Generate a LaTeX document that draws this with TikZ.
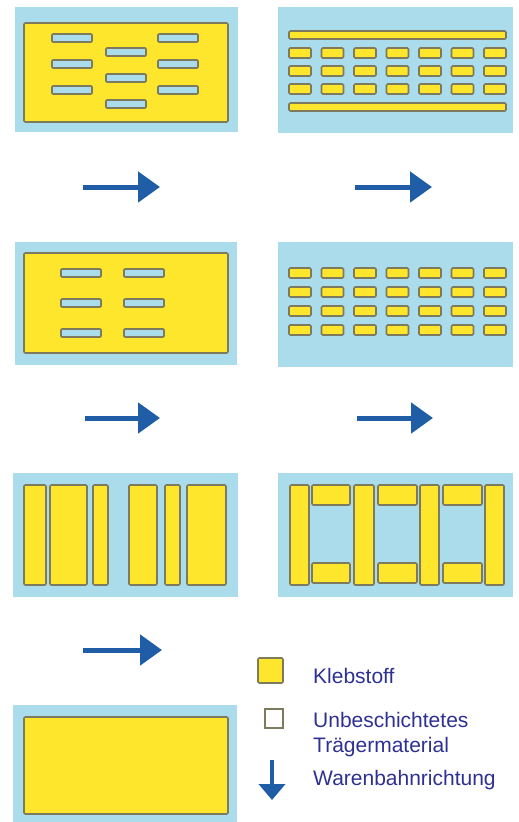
\documentclass[tikz,border=0pt]{standalone}
\usepackage{fontspec}
\setmainfont{Liberation Sans}
\usetikzlibrary{arrows.meta}
\definecolor{traeger}{HTML}{AADCEB}
\definecolor{kleber}{HTML}{FDE62C}
\definecolor{kante}{HTML}{7D7A5E}
\definecolor{pfeilblau}{HTML}{1F5EA6}
\definecolor{schrift}{HTML}{2E3192}
\tikzset{
  bg/.style={fill=traeger},
  glue/.style={fill=kleber, draw=kante, line width=1.6pt, rounded corners=1.2pt},
  gap/.style={fill=traeger, draw=kante, line width=1.6pt, rounded corners=1pt},
  pfeil/.style={draw=pfeilblau, line width=5pt, -{Triangle[length=22pt,width=30pt]}},
  legtext/.style={text=schrift, font=\fontsize{21}{23}\selectfont, anchor=base west, inner sep=0pt}
}
\begin{document}
\begin{tikzpicture}[x=1pt,y=-1pt]
\useasboundingbox (0,0) rectangle (519,822);
% row 1 left
\fill[bg] (15,7) rectangle (238,132);
\draw[glue] (24,23) rectangle (228,122);
\foreach \y in {38,64,90}
{
    \draw[gap] (52,\y-4) rectangle (92,\y+4);
    \draw[gap] (106,\y+10) rectangle (146,\y+18);
    \draw[gap] (158,\y-4) rectangle (198,\y+4);
}
% row 1 right
\fill[bg] (278,7) rectangle (513,133);
\draw[glue] (289,31) rectangle (506,39);
\draw[glue] (289,103) rectangle (506,111);
\foreach \y in {53,71,89}
    \foreach \i in {0,...,6}
        \draw[glue] ({289+32.5*\i},\y-5) rectangle ++(22,10);
\draw[pfeil] (83,187) -- (160,187);
\draw[pfeil] (355,187) -- (432,187);
% row 2 left
\fill[bg] (15,242) rectangle (237,365);
\draw[glue] (24,253) rectangle (228,353);
\foreach \y in {273,303,333}
{
    \draw[gap] (61,\y-4) rectangle (101,\y+4);
    \draw[gap] (124,\y-4) rectangle (164,\y+4);
}
% row 2 right
\fill[bg] (278,242) rectangle (513,367);
\foreach \y in {273,292,311,330}
    \foreach \i in {0,...,6}
        \draw[glue] ({289+32.5*\i},\y-5) rectangle ++(22,10);
\draw[pfeil] (85,418) -- (160,418);
\draw[pfeil] (357,418) -- (433,418);
% row 3 left
\fill[bg] (13,473) rectangle (238,597);
\foreach \a/\b in {24/46, 50/87, 93/108, 129/157, 165/180, 187/226}
    \draw[glue] (\a,485) rectangle (\b,585);
% row 3 right
\fill[bg] (278,473) rectangle (513,597);
\foreach \a/\b in {290/309, 354/374, 420/439, 485/504}
    \draw[glue] (\a,485) rectangle (\b,585);
\foreach \a/\b in {312/350, 378/417, 443/482}
{
    \draw[glue] (\a,485) rectangle (\b,505);
    \draw[glue] (\a,563) rectangle (\b,583);
}
\draw[pfeil] (83,650) -- (162,650);
% row 4
\fill[bg] (13,705) rectangle (237,822);
\draw[glue] (24,717) rectangle (228,814);
% legend
\draw[glue] (258,658) rectangle (283,683);
\draw[draw=kante, fill=white, line width=1.6pt] (265,709) rectangle (283,728);
\draw[draw=pfeilblau, line width=4pt, -{Triangle[length=16pt,width=26pt]}] (272,760) -- (272,800);
\node[legtext] (kleb) at (313,683) {Klebstoff};
\node[legtext] (unbe) at (313,727) {Unbeschichtetes};
\node[legtext] (traeg) at (313,752) {Trägermaterial};
\node[legtext] (bahn) at (313,785) {Warenbahnrichtung};
\end{tikzpicture}
\end{document}
